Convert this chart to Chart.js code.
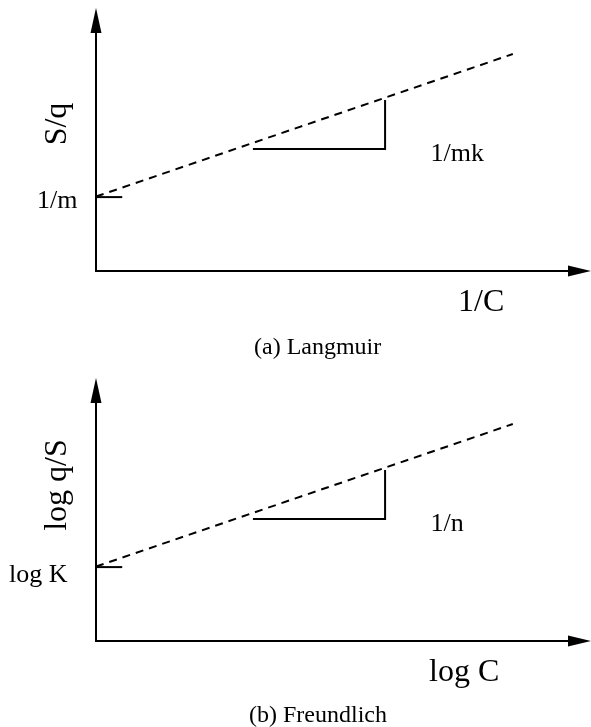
<!DOCTYPE html>
<html>
<head>
<meta charset="utf-8">
<script src="https://cdn.jsdelivr.net/npm/chart.js@4.4.1/dist/chart.umd.min.js"></script>
<style>
  html, body { margin: 0; padding: 0; background: #ffffff; }
  body { width: 591px; height: 727px; position: relative; overflow: hidden; }
  .panel { position: absolute; left: 0; }
</style>
</head>
<body>
<canvas id="langmuir" class="panel" width="591" height="370" style="top:0px"></canvas>
<canvas id="freundlich" class="panel" width="591" height="357" style="top:370px"></canvas>
<script>
// ---------- data (schematic values) ----------
const axisMin = 0;
const axisMax = 10;
const fitLineX = [0, 8.42];                  // dashed linear fit, x
const langmuirFitY = [2.83, 8.25];           // S/q vs 1/C
const freundlichFitY = [2.83, 8.25];         // log q/S vs log C
const interceptTickX = [0, 0.53];
const langmuirInterceptY = 2.81;             // 1/m
const freundlichInterceptY = 2.81;           // log K
const slopeTriangleX = [3.17, 5.84, 5.84];
const slopeTriangleY = [4.64, 4.64, 6.50];

const yTitles = ['S/q', 'log q/S'];
const xTitles = ['1/C', 'log C'];
const interceptLabels = ['1/m', 'log K'];
const slopeLabels = ['1/mk', '1/n'];
const captions = ['(a) Langmuir', '(b) Freundlich'];

// ---------- style / layout ----------
const SERIF = '"Liberation Serif", "Times New Roman", serif';
const panelLayouts = [
  { height: 370, yTitleX: 66, yTitleCY: 124, interceptLeft: 37, interceptBase: 208, xTitleLeft: 458, captionLeft: 254, captionBase: 354 },
  { height: 357, yTitleX: 66, yTitleCY: 115, interceptLeft: 9,  interceptBase: 212, xTitleLeft: 429, captionLeft: 249, captionBase: 352 }
];

function pts(xs, ys) { return xs.map((x, i) => ({ x: x, y: ys[i] })); }

const diagramPlugin = {
  id: 'diagram',
  afterDatasetsDraw(chart, args, opts) {
    const ctx = chart.ctx;
    const a = chart.chartArea;
    const L = opts.layout;
    const ax = a.left, ay = a.bottom;
    ctx.save();
    ctx.strokeStyle = '#000';
    ctx.fillStyle = '#000';
    ctx.lineWidth = 2;
    ctx.setLineDash([]);
    // axes
    ctx.beginPath();
    ctx.moveTo(ax, a.top + 20);
    ctx.lineTo(ax, ay);
    ctx.lineTo(a.right - 20, ay);
    ctx.stroke();
    // arrow heads
    ctx.beginPath();
    ctx.moveTo(ax, a.top);
    ctx.lineTo(ax - 5.5, a.top + 25);
    ctx.lineTo(ax + 5.5, a.top + 25);
    ctx.closePath();
    ctx.fill();
    ctx.beginPath();
    ctx.moveTo(a.right, ay);
    ctx.lineTo(a.right - 23, ay - 5.5);
    ctx.lineTo(a.right - 23, ay + 5.5);
    ctx.closePath();
    ctx.fill();

    const xs = chart.scales.x, ys = chart.scales.y;
    ctx.textAlign = 'left';
    ctx.textBaseline = 'alphabetic';
    // slope label next to the triangle
    ctx.font = '26px ' + SERIF;
    ctx.fillText(opts.slopeLabel, xs.getPixelForValue(6.76), ys.getPixelForValue(4.18));
    // intercept label
    ctx.fillText(opts.interceptLabel, L.interceptLeft, L.interceptBase);
    // x title
    ctx.font = '32px ' + SERIF;
    ctx.fillText(opts.xTitle, L.xTitleLeft, ay + 40);
    // y title (rotated)
    ctx.save();
    ctx.translate(L.yTitleX, L.yTitleCY);
    ctx.rotate(-Math.PI / 2);
    ctx.textAlign = 'center';
    ctx.fillText(opts.yTitle, 0, 0);
    ctx.restore();
    // caption
    ctx.font = '24px ' + SERIF;
    ctx.fillText(opts.caption, L.captionLeft, L.captionBase);
    ctx.restore();
  }
};

function makePanel(id, i, fitY, interceptY) {
  const L = panelLayouts[i];
  return new Chart(document.getElementById(id), {
    type: 'scatter',
    data: {
      datasets: [
        { data: pts(fitLineX, fitY), showLine: true, borderColor: '#000', borderWidth: 2,
          borderDash: [8, 6], pointRadius: 0, fill: false, clip: false },
        { data: pts(interceptTickX, [interceptY, interceptY]), showLine: true, borderColor: '#000',
          borderWidth: 2, pointRadius: 0, fill: false, clip: false },
        { data: pts(slopeTriangleX, slopeTriangleY), showLine: true, borderColor: '#000',
          borderWidth: 2, pointRadius: 0, fill: false, clip: false, borderJoinStyle: 'miter' }
      ]
    },
    options: {
      responsive: false,
      animation: false,
      events: [],
      layout: { padding: { left: 96, top: 8, right: 0, bottom: L.height - 271 } },
      scales: {
        x: { type: 'linear', min: axisMin, max: axisMax, display: false },
        y: { type: 'linear', min: axisMin, max: axisMax, display: false }
      },
      plugins: {
        legend: { display: false },
        tooltip: { enabled: false },
        title: { display: false },
        diagram: {
          layout: L,
          yTitle: yTitles[i], xTitle: xTitles[i], interceptLabel: interceptLabels[i],
          slopeLabel: slopeLabels[i], caption: captions[i]
        }
      }
    },
    plugins: [diagramPlugin]
  });
}

makePanel('langmuir', 0, langmuirFitY, langmuirInterceptY);
makePanel('freundlich', 1, freundlichFitY, freundlichInterceptY);
</script>
</body>
</html>
